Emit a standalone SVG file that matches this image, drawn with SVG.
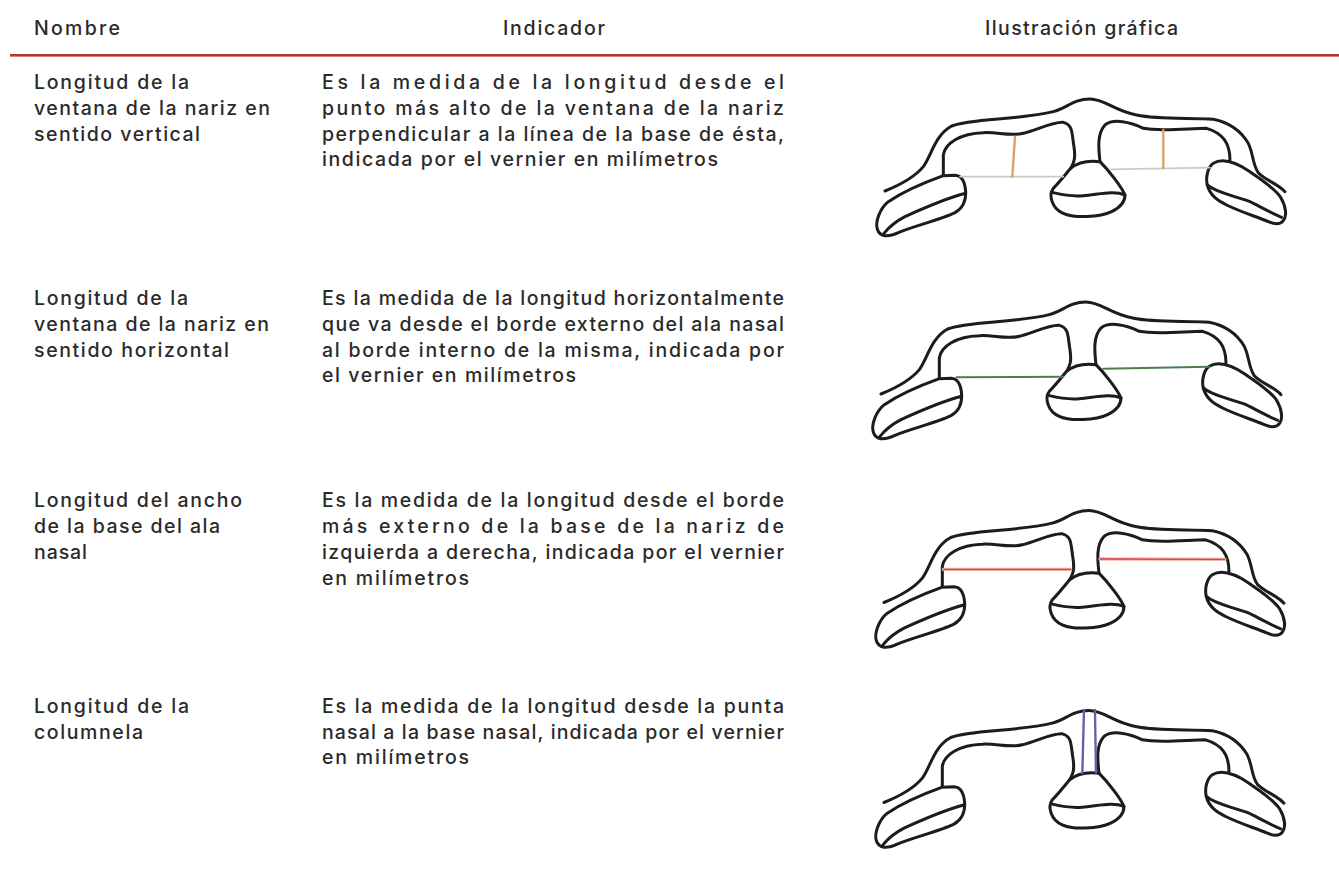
<svg xmlns="http://www.w3.org/2000/svg" width="1339" height="872" viewBox="0 0 1339 872">
<style>
text{font-family:"Inter","Noto Sans","Liberation Sans",sans-serif;font-size:19.5px;font-weight:500;fill:#2a2a2a}
.o{fill:none;stroke:#1d1a1a;stroke-width:9;stroke-linecap:round;stroke-linejoin:round;filter:url(#soft)}
.m{fill:none;stroke-linecap:round}
</style>
<defs>
<filter id="soft" x="-5%" y="-5%" width="110%" height="110%"><feGaussianBlur stdDeviation="1"/></filter>
<g id="nose" class="o">
<path d="M75,333C120,315 165,290 190,260C215,225 225,165 275,138C330,115 480,120 580,95C620,85 640,57 690,57C735,57 760,92 830,105C900,120 1000,112 1060,118C1120,130 1150,165 1165,190C1180,220 1178,255 1195,278C1215,300 1255,312 1275,335"/>
<path d="M250,285V225C255,190 300,160 370,158C410,155 450,170 490,160C530,150 580,125 610,127C640,135 635,160 642,200C648,240 640,250 632,265"/>
<path d="M720,245C715,200 712,160 735,135C760,115 810,125 850,145C900,155 990,145 1040,145C1090,160 1110,190 1110,240"/>
<path d="M250,287C200,305 130,335 85,365C60,385 45,425 52,448C60,472 85,472 115,458C160,438 240,420 285,398C308,385 318,360 317,335C315,305 305,287 285,286Z"/>
<path d="M317,340C270,352 190,385 135,410C110,423 88,440 72,460"/>
<path d="M632,265C650,250 680,240 720,245C745,270 785,320 795,345C795,365 780,383 755,395C720,412 640,415 610,400C575,385 565,345 580,325C600,305 615,285 632,265Z"/>
<path d="M580,338C610,345 640,350 670,347C710,345 760,330 795,345"/>
<path d="M1060,250C1085,235 1125,245 1170,275C1205,300 1245,325 1262,352C1278,380 1282,408 1270,422C1262,433 1245,434 1225,425C1190,410 1140,395 1100,375C1070,360 1050,345 1042,315C1036,290 1045,260 1060,250Z"/>
<path d="M1042,315C1070,340 1120,345 1170,365C1200,380 1240,402 1265,412"/>
</g>
</defs>
<rect width="1339" height="872" fill="#fff"/>
<g id="header">
<text x="34" y="35" textLength="86" lengthAdjust="spacing">Nombre</text>
<text x="503" y="35" textLength="102" lengthAdjust="spacing">Indicador</text>
<text x="985" y="35" textLength="193" lengthAdjust="spacing">Ilustración gráfica</text>
<rect x="10" y="54" width="1329" height="2.6" fill="#b5382a"/>
</g>
<g id="row1">
<text x="34" y="89" textLength="155" lengthAdjust="spacing">Longitud de la</text>
<text x="34" y="115" textLength="236" lengthAdjust="spacing">ventana de la nariz en</text>
<text x="34" y="141" textLength="166" lengthAdjust="spacing">sentido vertical</text>
<text x="322" y="89" textLength="462" lengthAdjust="spacing">Es la medida de la longitud desde el</text>
<text x="322" y="115" textLength="462" lengthAdjust="spacing">punto más alto de la ventana de la nariz</text>
<text x="322" y="141" textLength="462" lengthAdjust="spacing">perpendicular a la línea de la base de ésta,</text>
<text x="322" y="166" textLength="396" lengthAdjust="spacing">indicada por el vernier en milímetros</text>
<use href="#nose" transform="translate(860,80) scale(.3333)"/>
<g class="m" transform="translate(860,80) scale(.3333)">
<path d="M300,290H610M750,268L1050,263" stroke="#cfc8c0" stroke-width="5"/>
<path d="M465,170L457,290M910,150V265" stroke="#d9a25e" stroke-width="7"/>
</g>
</g>
<g id="row2">
<text x="34" y="305" textLength="154" lengthAdjust="spacing">Longitud de la</text>
<text x="34" y="331" textLength="235" lengthAdjust="spacing">ventana de la nariz en</text>
<text x="34" y="357" textLength="195" lengthAdjust="spacing">sentido horizontal</text>
<text x="322" y="305" textLength="462" lengthAdjust="spacing">Es la medida de la longitud horizontalmente</text>
<text x="322" y="331" textLength="462" lengthAdjust="spacing">que va desde el borde externo del ala nasal</text>
<text x="322" y="357" textLength="462" lengthAdjust="spacing">al borde interno de la misma, indicada por</text>
<text x="322" y="382" textLength="254" lengthAdjust="spacing">el vernier en milímetros</text>
<use href="#nose" transform="translate(856,283) scale(.3333)"/>
<g class="m" transform="translate(860,280) scale(.3333)">
<path d="M290,292L610,290M730,266L1050,260" stroke="#4a7d52" stroke-width="6"/>
</g>
</g>
<g id="row3">
<text x="34" y="507" textLength="208" lengthAdjust="spacing">Longitud del ancho</text>
<text x="34" y="533" textLength="186" lengthAdjust="spacing">de la base del ala</text>
<text x="34" y="559" textLength="53" lengthAdjust="spacing">nasal</text>
<text x="322" y="507" textLength="462" lengthAdjust="spacing">Es la medida de la longitud desde el borde</text>
<text x="322" y="533" textLength="462" lengthAdjust="spacing">más externo de la base de la nariz de</text>
<text x="322" y="559" textLength="462" lengthAdjust="spacing">izquierda a derecha, indicada por el vernier</text>
<text x="322" y="585" textLength="147" lengthAdjust="spacing">en milímetros</text>
<use href="#nose" transform="translate(859,491.5) scale(.3333)"/>
<g class="m" transform="translate(860,480) scale(.3333)">
<path d="M250,268H632M720,237L1095,238" stroke="#f2b5ae" stroke-width="10"/>
<path d="M250,268H632M720,237L1095,238" stroke="#d9433f" stroke-width="4"/>
</g>
</g>
<g id="row4">
<text x="34" y="713" textLength="155" lengthAdjust="spacing">Longitud de la</text>
<text x="34" y="739" textLength="109" lengthAdjust="spacing">columnela</text>
<text x="322" y="713" textLength="462" lengthAdjust="spacing">Es la medida de la longitud desde la punta</text>
<text x="322" y="739" textLength="462" lengthAdjust="spacing">nasal a la base nasal, indicada por el vernier</text>
<text x="322" y="764" textLength="147" lengthAdjust="spacing">en milímetros</text>
<use href="#nose" transform="translate(859,691.5) scale(.3333)"/>
<g class="m" transform="translate(860,680) scale(.3333)">
<path d="M672,90L667,280M705,90L708,278" stroke="#5f5fae" stroke-width="7"/>
</g>
</g>
</svg>
